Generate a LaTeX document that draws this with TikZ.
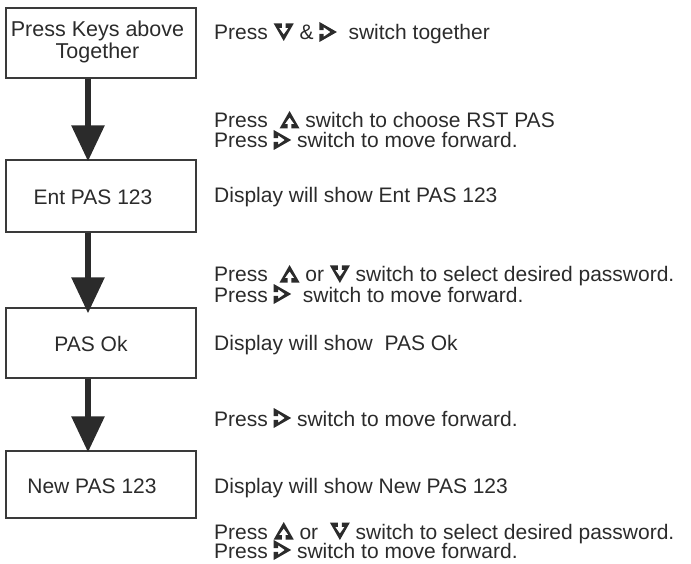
\documentclass[tikz,border=0pt]{standalone}
\usepackage{fontspec}
\setmainfont{Liberation Sans}
\usetikzlibrary{arrows.meta}
\definecolor{ink}{HTML}{2B2B2B}
\definecolor{boxline}{HTML}{3A3A3A}

% key glyph: a filled triangle with a small arrow cut out of its base
\tikzset{
  keyshape/.pic={
    \fill[ink] (-10,-8.5) -- (-1.9,-8.5) -- (-1.9,-4.2) -- (-4.8,-4.2) -- (0,2.6)
      -- (4.8,-4.2) -- (1.9,-4.2) -- (1.9,-8.5) -- (10,-8.5) -- (0,9) -- cycle;
  }
}
\newcommand\keyicon[1]{\tikz[baseline=-8pt,x=1pt,y=1pt]{\pic[rotate=#1]{keyshape};}}
\newcommand\kup{\keyicon{0}}
\newcommand\kdown{\keyicon{180}}
\newcommand\kright{\keyicon{-90}}

\begin{document}
\begin{tikzpicture}[x=1pt,y=-1pt,
  stepbox/.style={draw=boxline,line width=1.4pt,minimum width=190pt,inner sep=0pt},
  boxtext/.style={text=ink,font=\fontsize{21}{22}\selectfont,align=center,inner sep=0pt},
  firsttext/.style={text=ink,font=\fontsize{21.5}{22}\selectfont,align=center,inner sep=0pt},
  note/.style={text=ink,font=\fontsize{21}{20}\selectfont,anchor=base west,inner sep=0pt},
  flow/.style={draw=ink,line width=6pt,-{Triangle[width=32pt,length=36pt]}}
]
\useasboundingbox (0,0) rectangle (691,564);

% left column: step boxes
\node[stepbox,minimum height=70pt] (b1) at (101,43) {};
\node[stepbox,minimum height=72pt] (b2) at (101,196) {};
\node[stepbox,minimum height=70pt] (b3) at (101,343) {};
\node[stepbox,minimum height=67pt] (b4) at (101,484.5) {};

\node[firsttext] (t1) at (97.5,41.5) {Press Keys above\\Together};
\node[boxtext] (t2) at (93,197) {Ent PAS 123};
\node[boxtext] (t3) at (91,344) {PAS Ok};
\node[boxtext] (t4) at (92,486) {New PAS 123};

% flow arrows between the boxes
\coordinate (ax) at (88,0);
\coordinate (e2) at ([yshift=-2pt]b2.north -| ax);
\coordinate (e3) at ([yshift=-6pt]b3.north -| ax);
\coordinate (e4) at ([yshift=-2pt]b4.north -| ax);
\draw[flow] (b1.south -| ax) -- (e2);
\draw[flow] (b2.south -| ax) -- (e3);
\draw[flow] (b3.south -| ax) -- (e4);

% right column: instructions
\node[note] (n1) at (214,40) {Press \kdown{} \& \kright{}\ \ switch together};
\node[note] (n2) at (214,128) {Press \ \kup{} switch to choose RST PAS};
\node[note] (n3) at (214,148) {Press \kright{} switch to move forward.};
\node[note] (n4) at (214,203) {Display will show Ent PAS 123};
\node[note] (n5) at (214,282) {Press \ \kup{} or \kdown{} switch to select desired password.};
\node[note] (n6) at (214,302) {Press \kright{}\ \ switch to move forward.};
\node[note] (n7) at (214,350) {Display will show \ PAS Ok};
\node[note] (n8) at (214,426) {Press \kright{} switch to move forward.};
\node[note] (n9) at (214,493) {Display will show New PAS 123};
\node[note] (n10) at (214,539) {Press \kup{} or \ \kdown{} switch to select desired password.};
\node[note] (n11) at (214,558) {Press \kright{} switch to move forward.};
\end{tikzpicture}
\end{document}
